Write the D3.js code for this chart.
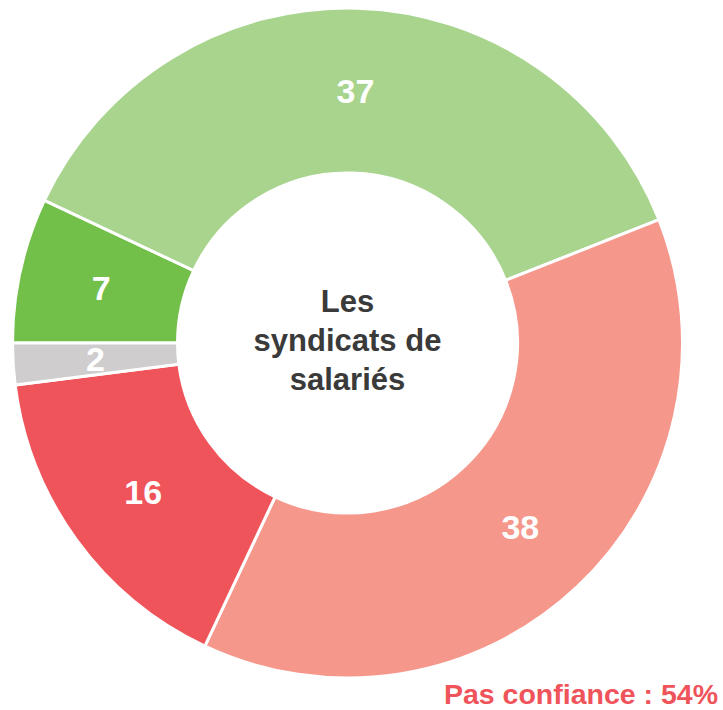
<!DOCTYPE html>
<html>
<head>
<meta charset="utf-8">
<script src="https://cdn.jsdelivr.net/npm/d3@7"></script>
<style>
  body { margin: 0; background: #fff; }
  svg { display: block; font-family: "Liberation Sans", Arial, sans-serif; }
</style>
</head>
<body>
<svg id="chart"></svg>
<script>
// data, in drawing order (clockwise from 9 o'clock)
const categories = ['Tout à fait confiance', 'Plutôt confiance', 'Plutôt pas confiance', 'Pas du tout confiance', 'Sans opinion'];
const values = [7, 37, 38, 16, 2];
const colors = ['#72bf4a', '#a8d48e', '#f5978b', '#f0545b', '#cfcdce'];
const centerLines = ['Les', 'syndicats de', 'salariés'];
const footnote = 'Pas confiance : 54%';

const w = 723, h = 710;
const cx = 347.5, cy = 343;
const outerR = 335, innerR = 170;

const svg = d3.select('#chart')
  .attr('width', w)
  .attr('height', h);

const data = categories.map((c, i) => ({cat: c, value: values[i], color: colors[i]}));

const pie = d3.pie()
  .value(d => d.value)
  .sort(null)
  .startAngle(-Math.PI / 2)
  .endAngle(3 * Math.PI / 2);

const arc = d3.arc()
  .innerRadius(innerR)
  .outerRadius(outerR);

const g = svg.append('g')
  .attr('transform', `translate(${cx}, ${cy})`);

const arcs = pie(data);

g.selectAll('path')
  .data(arcs)
  .join('path')
    .attr('d', arc)
    .attr('fill', d => d.data.color)
    .attr('stroke', '#fff')
    .attr('stroke-width', 3);

// value labels at the middle of each ring slice
g.selectAll('text.val')
  .data(arcs)
  .join('text')
    .attr('class', 'val')
    .attr('transform', d => `translate(${arc.centroid(d)})`)
    .attr('text-anchor', 'middle')
    .attr('dy', '0.36em')
    .attr('fill', '#fff')
    .style('font-size', '34px')
    .style('font-weight', 'bold')
    .text(d => d.data.value);

// title in the hole
g.append('text')
  .attr('text-anchor', 'middle')
  .attr('fill', '#3a3a3a')
  .style('font-size', '31px')
  .style('font-weight', 'bold')
  .selectAll('tspan')
  .data(centerLines)
  .join('tspan')
    .attr('x', 0)
    .attr('y', (d, i) => -31 + i * 39)
    .text(d => d);

svg.append('text')
  .attr('x', 718)
  .attr('y', 704)
  .attr('text-anchor', 'end')
  .attr('fill', '#f0545b')
  .style('font-size', '28.5px')
  .style('font-weight', 'bold')
  .text(footnote);
</script>
</body>
</html>
